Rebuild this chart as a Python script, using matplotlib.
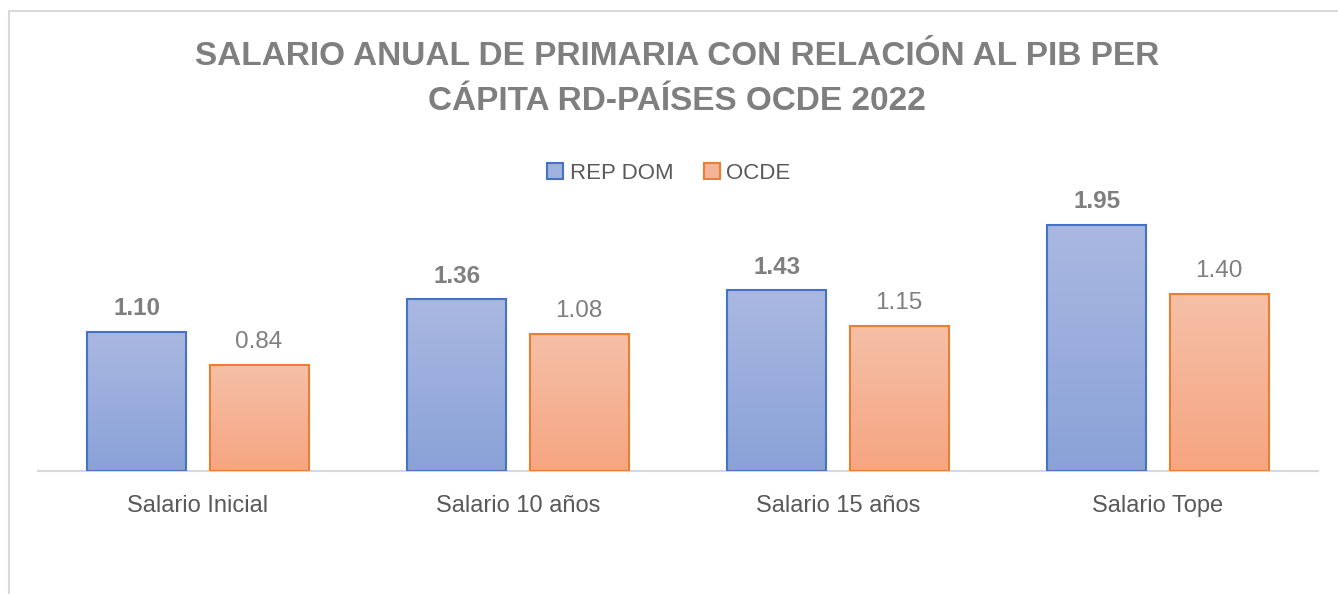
import numpy as np
import matplotlib.pyplot as plt
from matplotlib.colors import LinearSegmentedColormap
from matplotlib.patches import Rectangle

categories = ['Salario Inicial', 'Salario 10 años', 'Salario 15 años', 'Salario Tope']
rep_dom = [1.10, 1.36, 1.43, 1.95]
ocde = [0.84, 1.08, 1.15, 1.40]
series_names = ['REP DOM', 'OCDE']

title = 'SALARIO ANUAL DE PRIMARIA CON RELACIÓN AL PIB PER\nCÁPITA RD-PAÍSES OCDE 2022'

plt.rcParams['font.family'] = ['Liberation Sans', 'DejaVu Sans']
grey = '#7f7f7f'

fig = plt.figure(figsize=(13.38, 5.94), dpi=100)
ax = fig.add_axes([38 / 1338, 123 / 594, 1280 / 1338, 316 / 594])

# outer chart frame
fig.add_artist(Rectangle((9 / 1338, -0.1), 1.2, (594 - 11) / 594 + 0.1,
                         transform=fig.transFigure, fill=False,
                         edgecolor='#d9d9d9', lw=1.5))

x = np.arange(len(categories))
w = 0.31
gap = 0.072
off = (w + gap) / 2

grad_blue = LinearSegmentedColormap.from_list('b', ['#8aa2d8', '#aab8e1'])
grad_orange = LinearSegmentedColormap.from_list('o', ['#f5a581', '#f6c0a7'])

ymax = 2.5
grad = np.linspace(0, 1, 256).reshape(-1, 1)


def draw(vals, pos, edge, cmap, bold):
    bars = ax.bar(pos, vals, w, facecolor='none', edgecolor=edge, lw=1.5, zorder=3)
    for b, v in zip(bars, vals):
        x0, h = b.get_x(), b.get_height()
        im = ax.imshow(grad, cmap=cmap, origin='lower', aspect='auto',
                       extent=[x0, x0 + w, 0, h], zorder=2)
        im.set_clip_path(b)
        ax.annotate(f'{v:.2f}', (x0 + w / 2, h), xytext=(0, 23),
                    textcoords='offset pixels', ha='center', va='center',
                    fontsize=17.5, color=grey,
                    fontweight='bold' if bold else 'normal')
    return bars


b1 = draw(rep_dom, x - off, '#4472c4', grad_blue, True)
b2 = draw(ocde, x + off, '#ed7d31', grad_orange, False)

ax.set_xlim(-0.5, len(categories) - 0.5)
ax.set_ylim(0, ymax)
ax.set_xticks(x)
ax.set_xticklabels(categories, fontsize=17, color='#595959')
ax.tick_params(axis='x', length=0, pad=17)
ax.set_yticks([])
for s in ['top', 'left', 'right']:
    ax.spines[s].set_visible(False)
ax.spines['bottom'].set_color('#d9d9d9')
ax.spines['bottom'].set_linewidth(1.5)

fig.text(677 / 1338, 1 - 79 / 594, title, ha='center', va='center',
         fontsize=24, fontweight='bold', color=grey, linespacing=1.6)

h1 = Rectangle((0, 0), 1, 1, facecolor='#a0b1dd', edgecolor='#4472c4', lw=1.5)
h2 = Rectangle((0, 0), 1, 1, facecolor='#f6b496', edgecolor='#ed7d31', lw=1.5)
leg = fig.legend([h1, h2], series_names, loc='center',
                 bbox_to_anchor=(669 / 1338, 1 - 173 / 594), ncol=2, frameon=False,
                 fontsize=16, handlelength=0.7, handleheight=0.7,
                 handletextpad=0.3, columnspacing=1.4)
for t in leg.get_texts():
    t.set_color('#595959')

fig.savefig('out.png', dpi=100, facecolor='white')
